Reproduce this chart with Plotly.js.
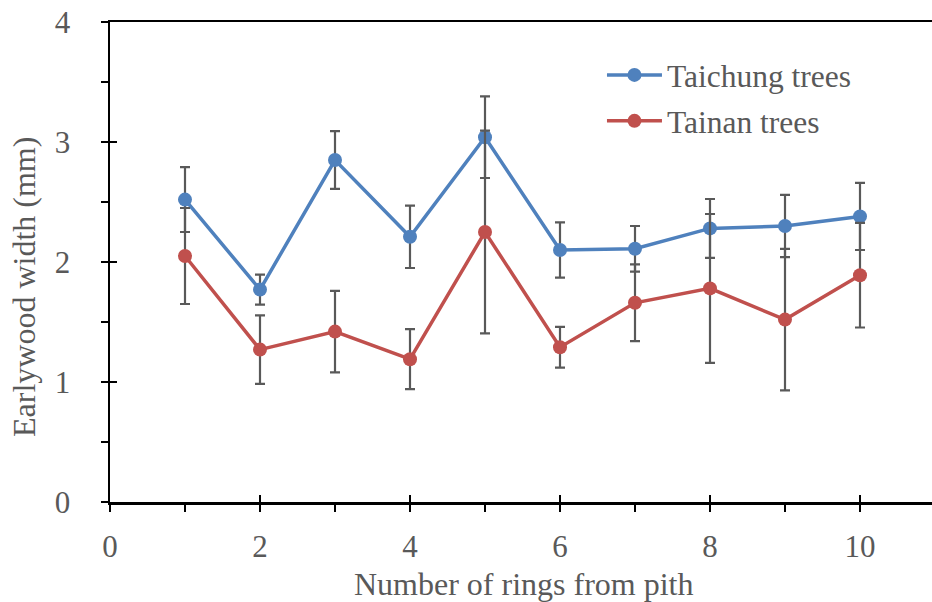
<!DOCTYPE html>
<html>
<head>
<meta charset="utf-8">
<script src="https://cdn.plot.ly/plotly-3.0.1.min.js"></script>
<style>html,body{margin:0;padding:0;background:#fff;}#chart{width:932px;height:602px;}</style>
</head>
<body>
<div id="chart"></div>
<script>
const rings = [1, 2, 3, 4, 5, 6, 7, 8, 9, 10];
const taichungMean = [2.52, 1.77, 2.85, 2.21, 3.04, 2.10, 2.11, 2.28, 2.30, 2.38];
const taichungErr  = [0.27, 0.125, 0.24, 0.26, 0.34, 0.23, 0.19, 0.245, 0.26, 0.28];
const tainanMean   = [2.05, 1.27, 1.42, 1.19, 2.25, 1.29, 1.66, 1.78, 1.52, 1.89];
const tainanErr    = [0.40, 0.285, 0.34, 0.25, 0.845, 0.17, 0.32, 0.62, 0.59, 0.436];
const xTickVals = [0, 2, 4, 6, 8, 10];
const yTickVals = [0, 1, 2, 3, 4];
const xTitle = 'Number of rings from pith';
const yTitle = 'Earlywood width (mm)';

const textColor = '#595959';
const fontFam = 'Liberation Serif';
const errStyle = {type: 'data', visible: true, color: '#595959', thickness: 2.2, width: 5};

const traces = [
  {x: rings, y: taichungMean, name: 'Taichung trees', legendgroup: 'a', type: 'scatter', mode: 'lines+markers',
   line: {color: '#4F81BD', width: 3.5}, marker: {color: '#4F81BD', size: 14},
   error_y: Object.assign({array: taichungErr}, errStyle)},
  {x: rings, y: tainanMean, name: 'Tainan trees', legendgroup: 'b', type: 'scatter', mode: 'lines+markers',
   line: {color: '#C0504D', width: 3.5}, marker: {color: '#C0504D', size: 14},
   error_y: Object.assign({array: tainanErr}, errStyle)},
  {x: [], y: [], xaxis: 'x2', yaxis: 'y2', showlegend: false, hoverinfo: 'skip', type: 'scatter'}
];

const layout = {
  width: 932, height: 602,
  margin: {l: 110, r: 0, t: 22, b: 100},
  paper_bgcolor: '#fff', plot_bgcolor: '#fff',
  font: {family: fontFam, color: textColor, size: 31},
  showlegend: true,
  legend: {x: 0.5985, y: 0.946, xanchor: 'left', yanchor: 'top', bgcolor: 'rgba(0,0,0,0)',
           font: {family: fontFam, size: 31.5, color: textColor}, traceorder: 'grouped', tracegroupgap: 2, itemwidth: 55},
  xaxis: {
    range: [0, 10.96], tickvals: xTickVals, ticktext: xTickVals.map(String),
    showgrid: false, zeroline: false, showline: true, linecolor: '#000', linewidth: 2.5,
    mirror: true,
    ticks: 'outside', ticklen: 7, tickwidth: 2, tickcolor: '#000',
    minor: {dtick: 1, tick0: 0, ticks: 'outside', ticklen: 7, tickwidth: 2, tickcolor: '#000', showgrid: false},
    tickfont: {family: fontFam, size: 31, color: textColor},
    ticklabelstandoff: 8,
    title: {text: ''}
  },
  yaxis: {
    range: [0, 4], tickvals: yTickVals, ticktext: yTickVals.map(String),
    showgrid: false, zeroline: false, showline: true, linecolor: '#000', linewidth: 2.5,
    ticks: 'outside', ticklen: 7, tickwidth: 2, tickcolor: '#000',
    minor: {dtick: 0.5, tick0: 0, ticks: 'outside', ticklen: 7, tickwidth: 2, tickcolor: '#000', showgrid: false},
    tickfont: {family: fontFam, size: 31, color: textColor},
    ticklabelstandoff: 24,
    title: {text: ''}
  },
  xaxis2: {overlaying: 'x', anchor: 'y2', range: [0, 10.96], tickvals: xTickVals, showticklabels: false,
           showgrid: false, zeroline: false, showline: false, ticks: 'inside', ticklen: 7, tickwidth: 2, tickcolor: '#000'},
  yaxis2: {overlaying: 'y', anchor: 'x2', range: [0, 4], tickvals: yTickVals, showticklabels: false,
           showgrid: false, zeroline: false, showline: false, ticks: 'inside', ticklen: 7, tickwidth: 2, tickcolor: '#000'},
  annotations: [
    {text: xTitle, xref: 'paper', yref: 'paper', x: (524 - 110) / 822, y: -(584 - 502) / 480,
     xanchor: 'center', yanchor: 'middle', showarrow: false, font: {family: fontFam, size: 32, color: textColor}},
    {text: yTitle, xref: 'paper', yref: 'paper', x: -(110 - 24) / 822, y: (502 - 287) / 480, textangle: -90,
     xanchor: 'center', yanchor: 'middle', showarrow: false, font: {family: fontFam, size: 32, color: textColor}}
  ]
};

Plotly.newPlot('chart', traces, layout, {displayModeBar: false, staticPlot: true});
</script>
</body>
</html>
